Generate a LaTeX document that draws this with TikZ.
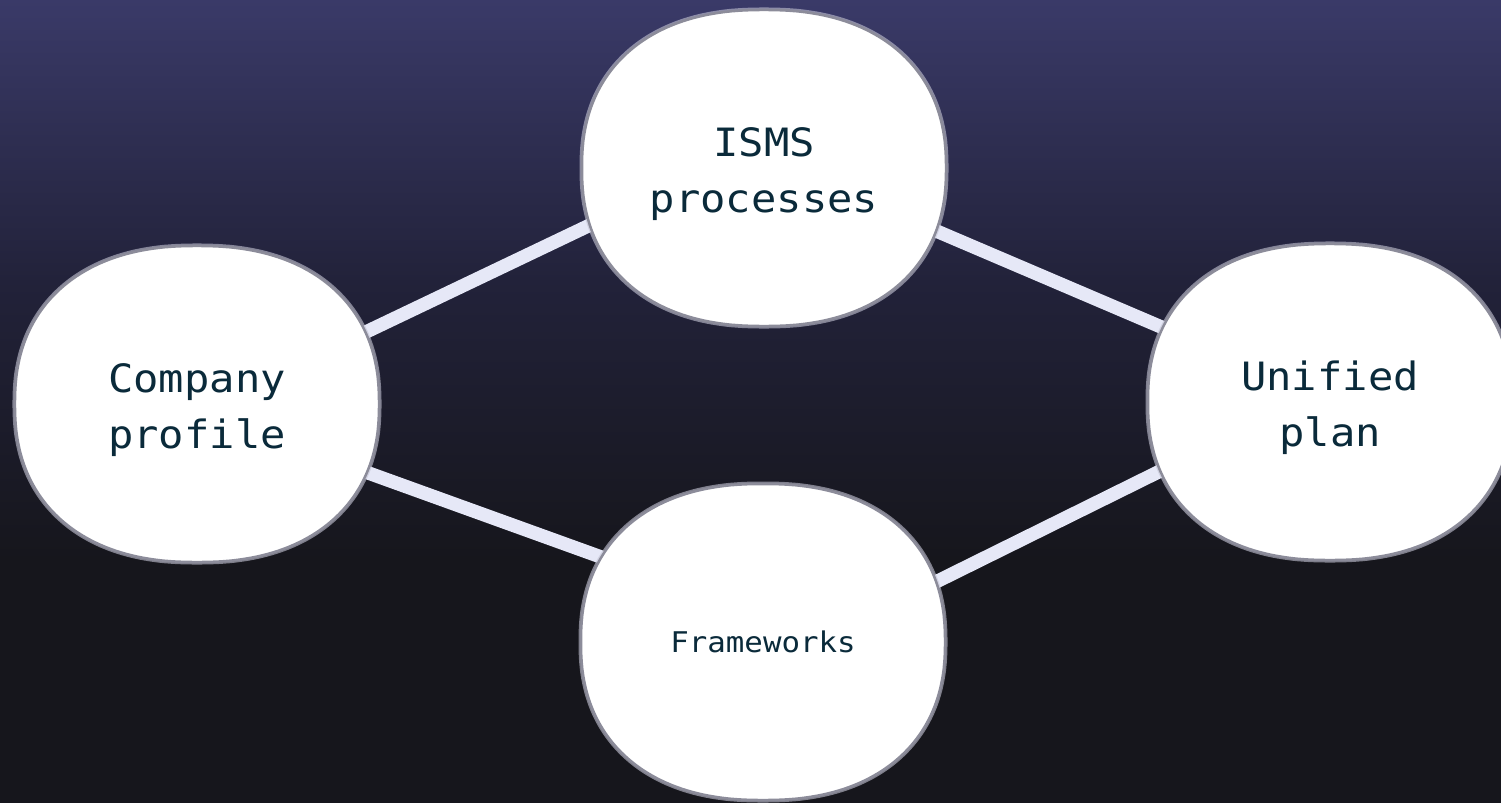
\documentclass[tikz,border=0pt]{standalone}
\usepackage{fontspec}
\usetikzlibrary{shapes.geometric}
\newfontfamily\monof[FakeStretch=1.08]{DejaVu Sans Mono}
\definecolor{bgdark}{HTML}{16161C}
\definecolor{bgtop}{HTML}{3A3A68}
\definecolor{bgmid}{HTML}{22223A}
\definecolor{edgecol}{HTML}{E6E8F7}
\definecolor{txtcol}{HTML}{0A2A3A}
\definecolor{rimcol}{HTML}{8C8C9A}
\definecolor{halocol}{HTML}{C4C4D4}
\pgfdeclarelayer{bglayer}
\pgfdeclarelayer{edgelayer}
\pgfsetlayers{bglayer,edgelayer,main}
\tikzset{
  blob/.style={ellipse, draw=none, fill=none,
    minimum width=364pt, minimum height=316pt, inner sep=0pt},
  bigtext/.style={text=txtcol, align=center, inner sep=0pt,
    font=\monof\fontsize{39}{56}\selectfont},
  smalltext/.style={text=txtcol, align=center, inner sep=0pt,
    font=\monof\fontsize{28.5}{36}\selectfont},
  halo/.style={draw=halocol, line width=5pt, draw opacity=0.6},
  rim/.style={draw=rimcol, line width=2.5pt, fill=white, line join=round},
  link/.style={draw=edgecol, line width=13.5pt}
}
\newcommand\blobat[1]{%
  \draw[halo, shift={(#1.center)}] plot[domain=0.25:360.25, samples=721]
    ({182*sign(cos(\x))*pow(abs(cos(\x)),0.87)},{158*sign(sin(\x))*pow(abs(sin(\x)),0.87)}) -- cycle;
  \draw[rim, shift={(#1.center)}] plot[domain=0.25:360.25, samples=721]
    ({182*sign(cos(\x))*pow(abs(cos(\x)),0.87)},{158*sign(sin(\x))*pow(abs(sin(\x)),0.87)}) -- cycle;}
\begin{document}
\begin{tikzpicture}[x=1pt,y=-1pt]
\useasboundingbox (0,0) rectangle (1501,803);
\begin{pgfonlayer}{bglayer}
  \fill[bgdark] (0,0) rectangle (1501,803);
  \shade[top color=bgtop, bottom color=bgdark, middle color=bgmid] (0,0) rectangle (1501,560);
  \fill[bgdark] (0,560) rectangle (1501,803);
\end{pgfonlayer}
\clip (0,0) rectangle (1501,803);
\node[blob] (isms) at (764,168) {};
\node[blob] (comp) at (197,404) {};
\node[blob] (unif) at (1330,402) {};
\node[blob] (fw) at (763,642) {};
\blobat{isms}
\blobat{comp}
\blobat{unif}
\blobat{fw}
\node[bigtext] (ismsT) at ([yshift=-6pt]isms.center) {ISMS\\processes};
\node[bigtext] (compT) at ([yshift=-6pt]comp.center) {Company\\profile};
\node[bigtext] (unifT) at ([yshift=-6pt]unif.center) {Unified\\plan};
\node[smalltext] (fwT) at (fw.center) {Frameworks};
\begin{pgfonlayer}{edgelayer}
  \draw[link] (comp.23) -- (isms.198);
  \draw[link] (isms.340.5) -- (unif.156.7);
  \draw[link] (comp.338.8) -- (fw.152.3);
  \draw[link] (fw.19.1) -- (unif.202.9);
\end{pgfonlayer}
\end{tikzpicture}
\end{document}
